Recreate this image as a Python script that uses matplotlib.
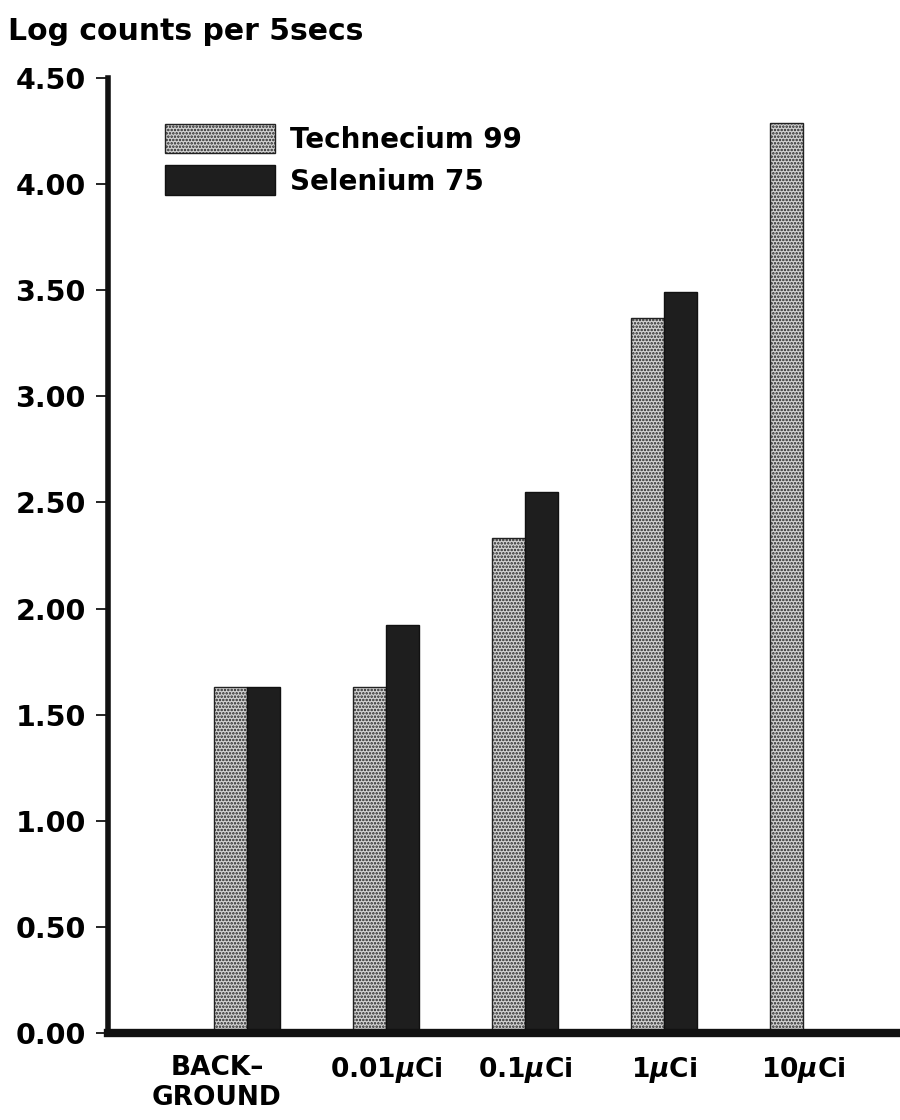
import numpy as np
import matplotlib
matplotlib.use('Agg')
import matplotlib.pyplot as plt
import matplotlib.transforms as mtransforms

# data
categories = ['BACK–\nGROUND', '0.01$\\mu$Ci', '0.1$\\mu$Ci', '1$\\mu$Ci', '10$\\mu$Ci']
technetium = [1.63, 1.63, 2.33, 3.37, 4.29]
selenium = [1.63, 1.92, 2.55, 3.49, np.nan]
yticks = [0.0, 0.5, 1.0, 1.5, 2.0, 2.5, 3.0, 3.5, 4.0, 4.5]

plt.rcParams['font.family'] = ['DejaVu Sans']
plt.rcParams['font.weight'] = 'bold'
plt.rcParams['hatch.linewidth'] = 1.2

fig = plt.figure(figsize=(9, 11.2), dpi=100)
ax = fig.add_axes([0.12, 0.0777, 0.88, 0.8527])

x = np.arange(len(categories))
w = 0.237
b1 = ax.bar(x - w / 2, technetium, w, facecolor='#d2d2d2', edgecolor='#222222',
            hatch='.....', lw=1, label='Technecium 99')
b2 = ax.bar(x + w / 2, selenium, w, facecolor='#1e1e1e', edgecolor='#111111',
            lw=1, label='Selenium 75')

ax.set_xlim(-1.0, 4.70)
ax.set_ylim(0, 4.5)
ax.set_yticks(yticks)
ax.set_yticklabels(['%.2f' % v for v in yticks], fontsize=20.5, fontweight='bold')
ax.set_xticks(x)
ax.set_xticklabels(categories, fontsize=19, fontweight='bold', linespacing=1.2)
ax.tick_params(axis='x', length=0, pad=16)
ax.tick_params(axis='y', length=9, width=1.2, pad=7, direction='out')

# background label sits a bit left of its bars
lab0 = ax.get_xticklabels()[0]
lab0.set_transform(lab0.get_transform() + mtransforms.ScaledTranslation(-0.3, 0, fig.dpi_scale_trans))

for s in ['top', 'right']:
    ax.spines[s].set_visible(False)
ax.spines['left'].set_linewidth(4)
ax.spines['bottom'].set_linewidth(6)
ax.spines['left'].set_color('#111111')
ax.spines['bottom'].set_color('#111111')

fig.text(0.009, 0.972, 'Log counts per 5secs', fontsize=21.5, fontweight='bold', va='center', ha='left')

ax.legend(loc='upper left', bbox_to_anchor=(0.072, 0.952), frameon=False,
          prop={'weight': 'bold', 'size': 20}, handlelength=3.96, handleheight=1.25,
          handletextpad=0.55, labelspacing=0.42, borderpad=0, borderaxespad=0)

fig.savefig('out.png', dpi=100)
